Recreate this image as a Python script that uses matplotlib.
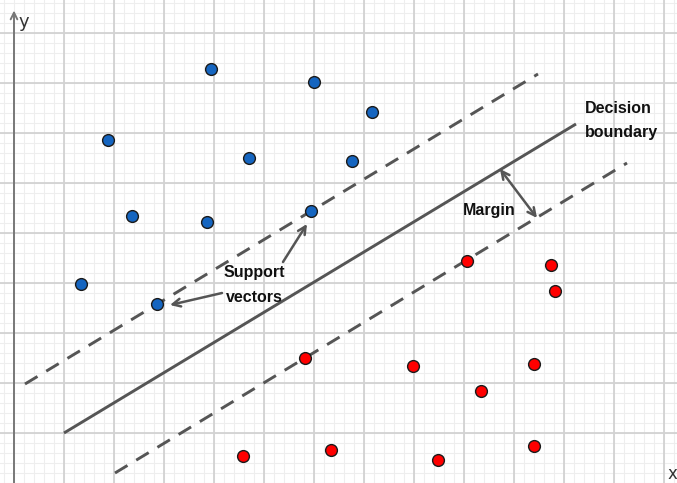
import numpy as np
import matplotlib
matplotlib.use("Agg")
import matplotlib.pyplot as plt

plt.rcParams['font.family'] = ['Liberation Sans', 'DejaVu Sans']

# Class A (blue) and class B (red) sample points
blue_x = [3.94, 6.00, 7.16, 1.88, 4.70, 6.76, 2.36, 3.86, 5.94, 1.34, 2.86]
blue_y = [8.28, 8.02, 7.42, 6.86, 6.50, 6.44, 5.34, 5.22, 5.44, 3.98, 3.58]
red_x = [9.06, 10.74, 10.82, 5.82, 7.98, 10.40, 9.34, 4.58, 6.34, 8.48, 10.40]
red_y = [4.44, 4.36, 3.84, 2.50, 2.34, 2.38, 1.84, 0.54, 0.66, 0.46, 0.74]

# Hyperplane and margin lines (end points)
boundary_x = [1.00, 11.24]
boundary_y = [1.00, 7.18]
upper_x = [0.22, 10.48]
upper_y = [1.98, 8.18]
lower_x = [2.02, 12.26]
lower_y = [0.20, 6.40]

fig = plt.figure(figsize=(6.77, 4.83), dpi=100)
ax = fig.add_axes([0, 0, 1, 1])
ax.set_xlim(-0.28, 13.26)
ax.set_ylim(0, 9.66)
for s in ax.spines.values():
    s.set_visible(False)
ax.set_xticks([])
ax.set_yticks([])

# Graph-paper grid
for v in np.arange(-0.2, 13.4, 0.2):
    ax.axvline(v, color='#eeeeee', lw=0.8, zorder=0)
for v in np.arange(0, 9.8, 0.2):
    ax.axhline(v, color='#eeeeee', lw=0.8, zorder=0)
for v in np.arange(1, 14, 1):
    ax.axvline(v, color='#d2d2d2', lw=1.3, zorder=0)
for v in np.arange(1, 10, 1):
    ax.axhline(v, color='#d2d2d2', lw=1.3, zorder=0)

# y axis with arrow
ax.annotate('', xy=(0, 9.45), xytext=(0, -0.1),
            arrowprops=dict(arrowstyle='->', color='#777777', lw=1.4,
                            mutation_scale=12, shrinkA=0, shrinkB=0), zorder=1)
ax.text(0.19, 9.22, 'y', fontsize=13, color='#333333', ha='center', va='center',
        family=['DejaVu Sans'])
ax.text(13.16, 0.18, 'x', fontsize=12, color='#333333', ha='center', va='center',
        family=['DejaVu Sans'])

line_col = '#555555'
ax.plot(boundary_x, boundary_y, color=line_col, lw=2.1, zorder=2, solid_capstyle='butt')
ax.plot(upper_x, upper_y, color=line_col, lw=2.1, ls=(0, (5, 3.5)), zorder=2)
ax.plot(lower_x, lower_y, color=line_col, lw=2.1, ls=(0, (5, 3.5)), zorder=2)

ax.scatter(blue_x, blue_y, s=72, color='#1565c0', edgecolor='#1a1a1a', linewidth=1.0, zorder=4)
ax.scatter(red_x, red_y, s=72, color='#ff0000', edgecolor='#1a1a1a', linewidth=1.0, zorder=4)

arrow_kw = dict(color=line_col, lw=1.8, mutation_scale=14, shrinkA=0, shrinkB=0)
# Margin width indicator
ax.annotate('', xy=(9.72, 6.28), xytext=(10.46, 5.30),
            arrowprops=dict(arrowstyle='<->', **arrow_kw), zorder=3)
# Support vector pointers
ax.annotate('', xy=(5.86, 5.18), xytext=(5.38, 4.42),
            arrowprops=dict(arrowstyle='->', **arrow_kw), zorder=3)
ax.annotate('', xy=(3.12, 3.56), xytext=(4.16, 3.80),
            arrowprops=dict(arrowstyle='->', **arrow_kw), zorder=3)

txt = dict(fontsize=11.5, fontweight='bold', color='#111111')
ax.text(4.80, 3.96, 'Support\nvectors', ha='center', va='center', linespacing=1.75, **txt)
ax.text(11.42, 7.26, 'Decision\nboundary', ha='left', va='center', linespacing=1.75, **txt)
ax.text(8.98, 5.46, 'Margin', ha='left', va='center', **txt)

fig.savefig('out.png', dpi=100)
